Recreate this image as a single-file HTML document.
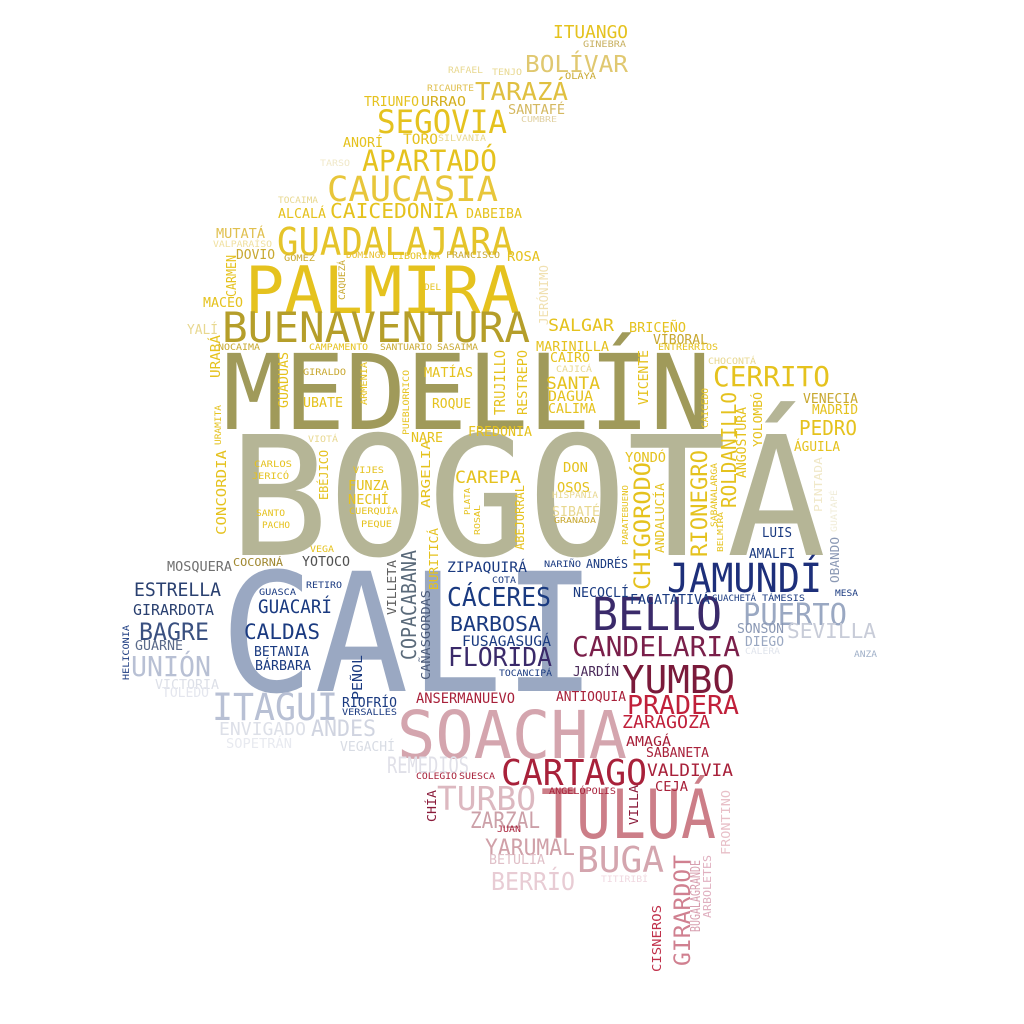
<!DOCTYPE html>
<html><head><meta charset="utf-8"><style>
html,body{margin:0;padding:0;background:#fff;}
svg{display:block;}
text{font-family:"DejaVu Sans Mono","Liberation Mono",monospace;}
</style></head><body>
<svg id="cloud" width="1024" height="1024" viewBox="0 0 1024 1024" xmlns="http://www.w3.org/2000/svg">
<rect width="1024" height="1024" fill="#ffffff"/>
</svg>
<script>
// horizontal words: text, left x, baseline y, right x, font size, colour
const words = [
["BOGOTÁ",229,555,826,166,"#b5b596"],
["CALI",220,691,597,165,"#9aa8c2"],
["MEDELLÍN",223,429,711,104,"#a09a5a"],
["PALMIRA",245,313,520,65,"#e5c21e"],
["BUENAVENTURA",222,342,530,42,"#b59e2a"],
["GUADALAJARA",277,255,513,38,"#e5c42a"],
["CAUCASIA",327,201,498,35,"#e8c63a"],
["APARTADÓ",362,171,497,29,"#e5c21e"],
["SEGOVIA",377,133,507,32,"#e5c21e"],
["TARAZÁ",475,100,568,25,"#e0c040"],
["BOLÍVAR",525,72,628,23,"#e0c870"],
["ITUANGO",553,38,628,18,"#e5c21e"],
["SOACHA",397,758,627,66,"#d4a5ae"],
["TULUÁ",541,838,716,68,"#cc7e88"],
["CARTAGO",501,785,647,36,"#a8213a"],
["YUMBO",622,693,735,38,"#7a1a3a"],
["BELLO",592,630,722,45,"#3a2a6a"],
["JAMUNDÍ",667,592,822,40,"#1d2f7a"],
["CANDELARIA",572,656,740,28,"#7a1f4a"],
["PRADERA",627,714,739,26,"#c0203a"],
["PUERTO",743,625,847,30,"#9aa8c2"],
["SEVILLA",787,638,876,20,"#c8ccd8"],
["CERRITO",713,386,830,28,"#e5c21e"],
["PEDRO",799,435,857,20,"#e5c21e"],
["ITAGUI",212,720,338,37,"#b8c0d4"],
["UNIÓN",131,676,211,28,"#b8c0d4"],
["BAGRE",139,640,209,24,"#3a5080"],
["ESTRELLA",134,596,221,19,"#2a4070"],
["GIRARDOTA",133,615,214,15,"#2a4070"],
["CÁCERES",447,606,551,26,"#1a3a80"],
["BARBOSA",450,631,541,20,"#1a3a80"],
["FLORIDA",448,666,552,26,"#3a2a6a"],
["GUACARÍ",258,613,332,19,"#1a3a80"],
["CALDAS",244,639,320,21,"#1a3a80"],
["BUGA",577,872,664,36,"#d4a5ae"],
["TURBO",437,810,536,33,"#dcb8c0"],
["ZARZAL",470,828,540,22,"#cca0a8"],
["YARUMAL",485,855,575,22,"#d0a0a8"],
["BERRÍO",491,890,575,25,"#e8ccd4"],
["REMEDIOS",387,773,469,22,"#e0e0e8"],
["ANDES",311,736,376,22,"#d0d4e0"],
["ENVIGADO",219,735,306,18,"#dde0e8"],
["VALDIVIA",647,776,733,17,"#a8213a"],
["ZARAGOZA",622,728,710,18,"#c0203a"],
["RAFAEL",448,73,483,9,"#e8d890"],
["TENJO",492,75,522,9,"#e8d890"],
["GINEBRA",583,47,626,9,"#c8b060"],
["OLAYA",565,79,596,9,"#c8a830"],
["RICAURTE",427,91,474,9,"#e0c050"],
["TRIUNFO",364,106,419,13,"#e5c21e"],
["URRAO",421,106,466,13,"#d4b020"],
["SANTAFÉ",508,114,565,13,"#d4b860"],
["CUMBRE",521,122,557,8,"#e0d0a0"],
["ANORÍ",343,147,383,13,"#e5c21e"],
["TORO",403,144,438,14,"#e5c21e"],
["SILVANIA",438,141,486,9,"#e8d890"],
["TARSO",320,166,350,9,"#f0e8c8"],
["TOCAIMA",278,203,318,9,"#e8d890"],
["ALCALÁ",278,218,326,13,"#e5c21e"],
["CAICEDONIA",330,218,458,20,"#e5c21e"],
["DABEIBA",466,218,522,13,"#e5c21e"],
["MUTATÁ",216,238,265,13,"#e0c050"],
["VALPARAÍSO",213,247,272,9,"#f0e0a0"],
["DOVIO",236,259,275,13,"#c8a830"],
["GÓMEZ",284,261,315,9,"#c8a830"],
["DOMINGO",346,258,386,9,"#e8c030"],
["LIBORINA",392,259,440,9,"#e5c21e"],
["FRANCISCO",446,258,500,9,"#c8a830"],
["ROSA",507,261,540,13,"#e5c21e"],
["DEL",424,290,441,9,"#e5c21e"],
["MACEO",203,307,243,13,"#e5c21e"],
["YALÍ",187,334,218,13,"#e8d890"],
["NOCAIMA",218,350,260,9,"#c8a830"],
["CAMPAMENTO",309,350,368,9,"#e5c21e"],
["SANTUARIO",380,350,432,9,"#c8a830"],
["SASAIMA",437,350,478,9,"#c8a830"],
["SALGAR",548,331,614,17,"#e5c21e"],
["BRICEÑO",629,332,686,13,"#e5c21e"],
["VÍBORAL",653,344,708,13,"#c8a830"],
["ENTRERRÍOS",658,350,718,9,"#e5c21e"],
["MARINILLA",536,351,609,13,"#e5c21e"],
["CAIRO",550,362,590,13,"#e5c21e"],
["CAJICÁ",556,372,592,9,"#e8d890"],
["CHOCONTÁ",708,364,756,9,"#e8d890"],
["GIRALDO",303,375,346,9,"#c8a830"],
["MATÍAS",424,377,473,13,"#e5c21e"],
["SANTA",546,389,600,17,"#e5c21e"],
["DAGUA",548,401,593,14,"#e5c21e"],
["CALIMA",548,413,596,13,"#e5c21e"],
["UBATE",303,407,343,13,"#e5c21e"],
["ROQUE",432,408,471,13,"#e5c21e"],
["VENECIA",803,403,858,13,"#c8a830"],
["MADRID",812,414,858,13,"#e5c21e"],
["ÁGUILA",794,451,840,13,"#e5c21e"],
["VIOTÁ",308,442,338,9,"#e8d890"],
["NARE",411,442,443,13,"#e5c21e"],
["FREDONIA",468,436,532,13,"#e5c21e"],
["CAREPA",455,483,521,17,"#e5c21e"],
["YONDÓ",625,462,666,13,"#e5c21e"],
["DON",563,472,588,13,"#e5c21e"],
["OSOS",557,492,590,13,"#e5c21e"],
["CARLOS",254,467,292,9,"#e5c21e"],
["JERICÓ",252,479,289,9,"#e5c21e"],
["VIJES",353,473,384,9,"#e5c21e"],
["FUNZA",348,490,389,13,"#e5c21e"],
["NECHÍ",348,504,389,13,"#e5c21e"],
["CUERQUÍA",349,514,398,9,"#e5c21e"],
["HISPANIA",552,498,598,9,"#e8d890"],
["SIBATÉ",552,516,600,13,"#e8d890"],
["GRANADA",554,523,596,8,"#c8a830"],
["SANTO",256,516,285,9,"#e5c21e"],
["PACHO",262,528,290,9,"#e5c21e"],
["PEQUE",361,527,392,9,"#e5c21e"],
["VEGA",310,552,334,9,"#e5c21e"],
["COCORNÁ",233,566,283,11,"#a08830"],
["MOSQUERA",167,571,232,13,"#707070"],
["YOTOCO",302,566,350,13,"#505050"],
["RETIRO",306,588,342,9,"#1a3a80"],
["GUASCA",259,595,296,9,"#1a3a80"],
["ZIPAQUIRÁ",447,572,527,14,"#1a3a80"],
["COTA",492,583,516,9,"#1a3a80"],
["NARIÑO",544,567,581,9,"#1a3a80"],
["ANDRÉS",586,568,628,12,"#1a3a80"],
["NECOCLÍ",573,597,629,13,"#1a3a80"],
["FACATATIVÁ",630,604,710,13,"#1a3a80"],
["GUACHETÁ",712,601,756,9,"#1a3a80"],
["TÁMESIS",762,601,805,9,"#1a3a80"],
["LUIS",762,537,792,13,"#1a3a80"],
["AMALFI",749,558,795,13,"#1a3a80"],
["MESA",835,596,858,9,"#1a3a80"],
["SONSÓN",737,633,784,13,"#8a98b4"],
["DIEGO",745,646,784,13,"#9aa8c2"],
["CALERA",745,654,780,9,"#e0e4ec"],
["ANZA",854,657,877,9,"#a0b0c8"],
["FUSAGASUGÁ",462,646,551,14,"#1a3a80"],
["TOCANCIPÁ",499,676,552,9,"#1a3a80"],
["JARDÍN",573,676,619,13,"#4a2a5a"],
["BETANIA",254,656,309,13,"#1a3a80"],
["BÁRBARA",255,670,311,13,"#1a3a80"],
["GUARNE",135,650,183,13,"#5a6a8a"],
["VICTORIA",155,689,219,13,"#dde0e8"],
["TOLEDO",162,697,209,13,"#e4e6ee"],
["RIOFRÍO",342,707,397,13,"#1a3a80"],
["VERSALLES",342,715,397,9,"#1a3a80"],
["ANSERMANUEVO",416,703,515,14,"#a8213a"],
["ANTIOQUIA",556,701,626,13,"#a8213a"],
["SOPETRÁN",226,748,292,13,"#e8eaf0"],
["VEGACHÍ",340,751,395,13,"#d8dce4"],
["AMAGÁ",626,746,671,13,"#a8213a"],
["SABANETA",646,757,709,13,"#a8213a"],
["COLEGIO",416,779,457,9,"#a8213a"],
["SUESCA",459,779,495,9,"#a8213a"],
["CEJA",655,791,688,13,"#a8213a"],
["ANGELÓPOLIS",549,794,616,9,"#a8213a"],
["JUAN",497,832,521,9,"#a8213a"],
["BETULIA",489,864,545,13,"#e0c0c8"],
["TITIRIBÍ",601,882,648,9,"#f0d8e0"]
];
// vertical words: text, baseline x (right edge), top y, bottom y, font size, colour
const vwords = [
["RIONEGRO",707,450,557,22,"#e5c21e"],
["CHIGORODÓ",650,462,590,22,"#e5c21e"],
["ROLDANILLO",736,392,508,20,"#e5c21e"],
["COPACABANA",416,550,660,20,"#5a6a7a"],
["GIRARDOT",690,855,966,22,"#d08090"],
["CARMEN",236,255,297,13,"#e5c21e"],
["CAQUEZÁ",345,260,300,9,"#c8a830"],
["JERÓNIMO",548,265,325,12,"#f0e0b0"],
["URABÁ",220,335,378,13,"#e5c21e"],
["GUADUAS",288,352,408,13,"#e5c21e"],
["ARMENIA",367,362,405,9,"#e5c21e"],
["TRUJILLO",505,350,415,15,"#e5c21e"],
["RESTREPO",527,350,415,13,"#e5c21e"],
["VICENTE",648,350,405,13,"#e5c21e"],
["PUEBLORRICO",409,370,435,9,"#e5c21e"],
["CAICEDO",708,388,428,9,"#e5c21e"],
["ANGOSTURA",746,407,478,13,"#e5c21e"],
["YOLOMBÓ",762,392,447,12,"#e5c21e"],
["URAMITA",221,405,445,9,"#e5c21e"],
["EBÉJICO",328,450,500,12,"#e5c21e"],
["ARGELIA",430,440,508,12,"#e5c21e"],
["PARATEBUENO",628,485,545,8,"#e5c21e"],
["ANDALUCÍA",664,483,553,12,"#e5c21e"],
["ABEJORRAL",524,485,550,12,"#e5c21e"],
["PLATA",470,488,515,8,"#e5c21e"],
["ROSAL",480,505,535,8,"#e5c21e"],
["BURITICÁ",438,528,590,12,"#e5c21e"],
["PINTADA",822,457,512,11,"#f0e8c8"],
["GUATAPÉ",837,490,532,9,"#f0ecd8"],
["SABANALARGA",717,463,527,9,"#e5c21e"],
["BELMIRA",723,512,552,8,"#e5c21e"],
["CONCORDIA",226,450,535,13,"#e5c21e"],
["VILLETA",396,560,615,12,"#606060"],
["CAÑASGORDAS",430,590,680,12,"#4a5a7a"],
["OBANDO",839,537,583,12,"#8a98b4"],
["HELICONIA",129,625,680,9,"#1a3a80"],
["PEÑOL",362,655,700,13,"#1a3a80"],
["VILLA",638,785,825,12,"#8a1a3a"],
["CHÍA",436,790,822,12,"#8a1a3a"],
["FRONTINO",730,790,855,12,"#e8c0c8"],
["BUGALAGRANDE",700,860,932,13,"#d8a0b0"],
["ARBOLETES",711,855,918,11,"#e0b0c0"],
["CISNEROS",661,905,972,12,"#c0304a"]
];
const svg = document.getElementById('cloud');
const NS = 'http://www.w3.org/2000/svg';
function slug(s){return s.normalize('NFD').replace(/[\u0300-\u036f]/g,'').toLowerCase().replace(/[^a-z0-9]+/g,'-');}
for (const w of words) {
  const t = document.createElementNS(NS,'text');
  t.setAttribute('x', w[1]);
  t.setAttribute('y', w[2]);
  t.setAttribute('font-size', w[4]);
  t.setAttribute('fill', w[5]);
  t.setAttribute('textLength', w[3]-w[1]);
  t.setAttribute('lengthAdjust', 'spacingAndGlyphs');
  t.textContent = w[0];
  
  
  svg.appendChild(t);
}
for (const w of vwords) {
  const t = document.createElementNS(NS,'text');
  t.setAttribute('x', w[1]);
  t.setAttribute('y', w[3]);
  t.setAttribute('font-size', w[4]);
  t.setAttribute('fill', w[5]);
  t.setAttribute('textLength', w[3]-w[2]);
  t.setAttribute('lengthAdjust', 'spacingAndGlyphs');
  t.setAttribute('transform', 'rotate(-90 ' + w[1] + ' ' + w[3] + ')');
  t.textContent = w[0];
  
  
  svg.appendChild(t);
}
</script>
</body></html>
